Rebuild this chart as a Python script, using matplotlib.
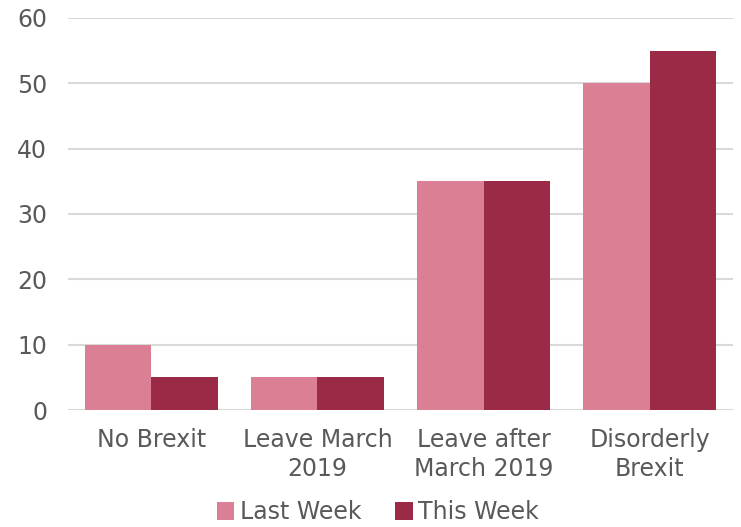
import numpy as np
import matplotlib
matplotlib.use("Agg")
import matplotlib.pyplot as plt

categories = ["No Brexit", "Leave March\n2019", "Leave after\nMarch 2019", "Disorderly\nBrexit"]
last_week = [10, 5, 35, 50]
this_week = [5, 5, 35, 55]
series_names = ["Last Week", "This Week"]
colors = ["#DB8094", "#9B2A47"]
text_col = "#595959"

plt.rcParams['font.family'] = ['DejaVu Sans']

fig = plt.figure(figsize=(7.41, 5.27), dpi=100)
ax = fig.add_axes([0.092, 0.222, 0.897, 0.744])

x = np.arange(len(categories))
w = 0.4
ax.bar(x - w/2, last_week, w, color=colors[0], label=series_names[0], zorder=3)
ax.bar(x + w/2, this_week, w, color=colors[1], label=series_names[1], zorder=3)

ax.set_xlim(-0.5, len(categories) - 0.5)
ax.set_ylim(0, 60)
ax.set_yticks(range(0, 61, 10))
ax.set_xticks(x)
ax.set_xticklabels(categories)
ax.yaxis.grid(True, color="#D9D9D9", lw=1.5, zorder=0)
for s in ax.spines.values():
    s.set_visible(False)
ax.tick_params(length=0, labelsize=17, colors=text_col)
ax.tick_params(axis='y', pad=15)
ax.tick_params(axis='x', pad=13)
for lbl in ax.get_xticklabels():
    lbl.set_linespacing(1.25)

leg = fig.legend(loc="lower center", bbox_to_anchor=(0.51, -0.035), ncol=2, frameon=False,
                 fontsize=17, handlelength=0.75, handleheight=0.75, handletextpad=0.25,
                 columnspacing=1.4, labelcolor=text_col)

fig.savefig("out.png", dpi=100)
